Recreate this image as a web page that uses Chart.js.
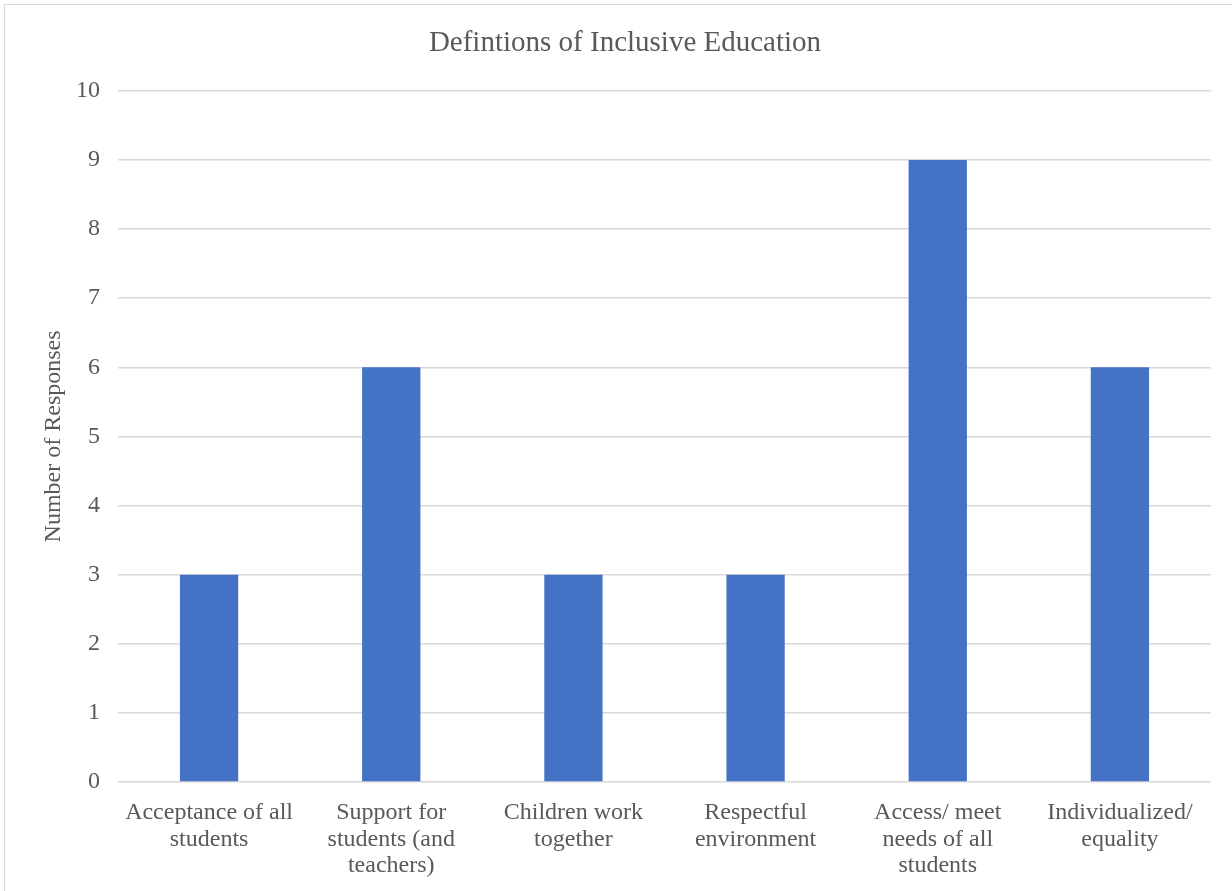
<!DOCTYPE html>
<html>
<head>
<meta charset="utf-8">
<script src="https://cdn.jsdelivr.net/npm/chart.js@4/dist/chart.umd.min.js"></script>
<style>
  body { margin: 0; background: #fff; overflow: hidden; }
  #frame {
    position: absolute; left: 4px; top: 4px; width: 1260px; height: 920px;
    border: 1px solid #d9d9d9; pointer-events: none;
  }
  #chart { position: absolute; left: 0; top: 0; }
</style>
</head>
<body>
<canvas id="chart" width="1232" height="891"></canvas>
<div id="frame"></div>
<script>
const categories = [
  ["Acceptance of all", "students"],
  ["Support for", "students (and", "teachers)"],
  ["Children work", "together"],
  ["Respectful", "environment"],
  ["Access/ meet", "needs of all", "students"],
  ["Individualized/", "equality"],
];
const responses = [3, 6, 3, 3, 9, 6];
const yMin = 0;
const yMax = 10;
const yStep = 1;

const textColor = "#595959";
const gridColor = "#d9d9d9";
const serif = "'Liberation Serif', 'Times New Roman', serif";

new Chart(document.getElementById("chart"), {
  type: "bar",
  data: {
    labels: categories,
    datasets: [
      {
        label: "Number of Responses",
        data: responses,
        backgroundColor: "#4472c4",
        barPercentage: 0.32,
        categoryPercentage: 1,
      },
    ],
  },
  options: {
    responsive: false,
    animation: false,
    devicePixelRatio: 1,
    layout: { padding: { left: 39, right: 21, top: 10, bottom: 0 } },
    plugins: {
      legend: { display: false },
      tooltip: { enabled: false },
      title: {
        display: true,
        text: "Defintions of Inclusive Education",
        color: textColor,
        font: { family: serif, size: 29, weight: "normal" },
        padding: { top: 16, bottom: 30 },
      },
    },
    scales: {
      x: {
        grid: { display: false },
        border: { display: false },
        ticks: {
          color: textColor,
          font: { family: serif, size: 24, lineHeight: 1.1 },
          padding: 10,
          maxRotation: 0,
          autoSkip: false,
        },
        afterFit: (scale) => { scale.height = 109; },
      },
      y: {
        min: yMin,
        max: yMax,
        border: { display: false },
        grid: { color: gridColor, lineWidth: 1.5, drawTicks: false },
        ticks: {
          stepSize: yStep,
          color: textColor,
          font: { family: serif, size: 24 },
          padding: 18,
        },
        title: {
          display: true,
          text: "Number of Responses",
          color: textColor,
          font: { family: serif, size: 24 },
          padding: 0,
        },
        afterFit: (scale) => { scale.width = 79; },
      },
    },
  },
});
</script>
</body>
</html>
